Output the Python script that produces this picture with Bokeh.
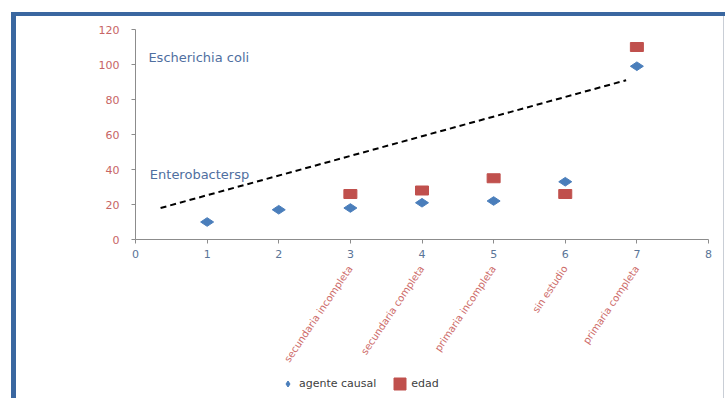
import math
from bokeh.plotting import figure
from bokeh.layouts import column
from bokeh.models import (Legend, LegendItem, LinearAxis, FixedTicker,
                          Label, Range1d, ColumnDataSource)
from bokeh.embed import file_html
from bokeh.resources import INLINE

# --- data ---------------------------------------------------------------
agente_x = [1, 2, 3, 4, 5, 6, 7]
agente_y = [10, 17, 18, 21, 22, 33, 99]

edad_x = [3, 4, 5, 6, 7]
edad_y = [26, 28, 35, 26, 110]

trend_x = [0.35, 6.85]
trend_y = [18, 91]

x_ticks = [0, 1, 2, 3, 4, 5, 6, 7, 8]
y_ticks = [0, 20, 40, 60, 80, 100, 120]

cat_ticks = [3, 4, 5, 6, 7]
cat_labels = ["secundaria incompleta", "secundaria completa", "primaria incompleta",
              "sin estudio", "primaria completa"]

notes = ["Escherichia coli", "Enterobactersp"]
notes_x = [0.18, 0.2]
notes_y = [104, 37]

series_names = ["agente causal", "edad"]

BLUE = "#4a7ebb"
RED = "#c0504d"
FRAME = "#3a67a0"
FONT = "DejaVu Sans"

src_a = ColumnDataSource(dict(x=agente_x, y=agente_y))
src_e = ColumnDataSource(dict(x=edad_x, y=edad_y))

# ---- main chart ----------------------------------------------------------
p = figure(width=725, height=370, output_backend="svg", toolbar_location=None,
           x_range=Range1d(0, 8), y_range=Range1d(0, 120),
           min_border_left=135, min_border_right=17, min_border_top=29,
           min_border_bottom=131, x_axis_type=None, y_axis_type=None,
           background_fill_color="white", border_fill_color=None)
p.outline_line_color = None

xaxis = LinearAxis(ticker=FixedTicker(ticks=x_ticks))
xaxis.axis_line_color = "#8c8c8c"
xaxis.major_tick_line_color = "#8c8c8c"
xaxis.major_tick_in = 0
xaxis.major_tick_out = 4
xaxis.minor_tick_line_color = None
xaxis.major_label_text_color = "#5a7497"
xaxis.major_label_text_font = FONT
xaxis.major_label_text_font_size = "11px"
xaxis.major_label_standoff = 6
p.add_layout(xaxis, "below")

cat_axis = LinearAxis(ticker=FixedTicker(ticks=cat_ticks),
                      major_label_overrides={t: s for t, s in zip(cat_ticks, cat_labels)})
cat_axis.axis_line_color = None
cat_axis.major_tick_line_color = None
cat_axis.minor_tick_line_color = None
cat_axis.major_label_orientation = math.radians(56)
cat_axis.major_label_text_color = "#cd6b69"
cat_axis.major_label_text_font = FONT
cat_axis.major_label_text_font_size = "10px"
cat_axis.major_label_standoff = 0
p.add_layout(cat_axis, "below")

yaxis = LinearAxis(ticker=FixedTicker(ticks=y_ticks))
yaxis.axis_line_color = "#8c8c8c"
yaxis.major_tick_line_color = "#8c8c8c"
yaxis.major_tick_in = 0
yaxis.major_tick_out = 4
yaxis.minor_tick_line_color = None
yaxis.major_label_text_color = "#c76565"
yaxis.major_label_text_font = FONT
yaxis.major_label_text_font_size = "11px"
yaxis.major_label_standoff = 12
p.add_layout(yaxis, "left")

p.xgrid.visible = False
p.ygrid.ticker = FixedTicker(ticks=y_ticks)
p.ygrid.grid_line_color = "#a6a6a6"

# trend line
p.line(trend_x, trend_y, line_color="black", line_width=2, line_dash="6 4")

# series
p.scatter("x", "y", source=src_a, marker="diamond", size=13, angle=math.pi / 2,
          fill_color=BLUE, line_color=BLUE)
p.rect("x", "y", width=13, height=9, width_units="screen", height_units="screen",
       source=src_e, fill_color=RED, line_color=RED)

# text notes inside the plot
for t, nx, ny in zip(notes, notes_x, notes_y):
    p.add_layout(Label(x=nx, y=ny, text=t, text_color="#4f6fa0", text_font=FONT,
                       text_font_size="13px", text_baseline="middle"))

# ---- legend strip under the chart ---------------------------------------
# the strip's ranges keep the series' own points out of view; only the key shows
key = figure(width=725, height=28, output_backend="svg", toolbar_location=None,
             x_range=Range1d(0, 1), y_range=Range1d(0, 1),
             min_border_left=135, min_border_right=17, min_border_top=0,
             min_border_bottom=0, x_axis_type=None, y_axis_type=None,
             background_fill_color=None, border_fill_color=None)
key.outline_line_color = None
key_a = key.scatter("x", "y", source=src_a, marker="diamond", size=13, angle=math.pi / 2,
                    fill_color=BLUE, line_color=BLUE)
key_e = key.rect("x", "y", width=13, height=9, width_units="screen",
                 height_units="screen", source=src_e, fill_color=RED, line_color=RED)
legend = Legend(items=[LegendItem(label=series_names[0], renderers=[key_a]),
                       LegendItem(label=series_names[1], renderers=[key_e])],
                orientation="horizontal", location=(145, 7), margin=0,
                label_text_font=FONT, label_text_font_size="11px",
                label_text_color="#404040", glyph_width=15, glyph_height=15,
                label_standoff=4, spacing=16, padding=0,
                border_line_color=None, background_fill_alpha=0)
key.add_layout(legend, "center")

# blue frame (top and left bars, thin right edge) behind both canvases
page = column(p, key, spacing=0, styles={
    "background-color": "white",
    "background-image": (f"linear-gradient({FRAME},{FRAME}), "
                         f"linear-gradient({FRAME},{FRAME}), "
                         "linear-gradient(#c9ced6,#c9ced6)"),
    "background-position": "11px 12px, 11px 12px, 723px 12px",
    "background-size": "5px 386px, 714px 4px, 1px 386px",
    "background-repeat": "no-repeat",
})

open("out.html", "w").write(file_html(page, INLINE))
